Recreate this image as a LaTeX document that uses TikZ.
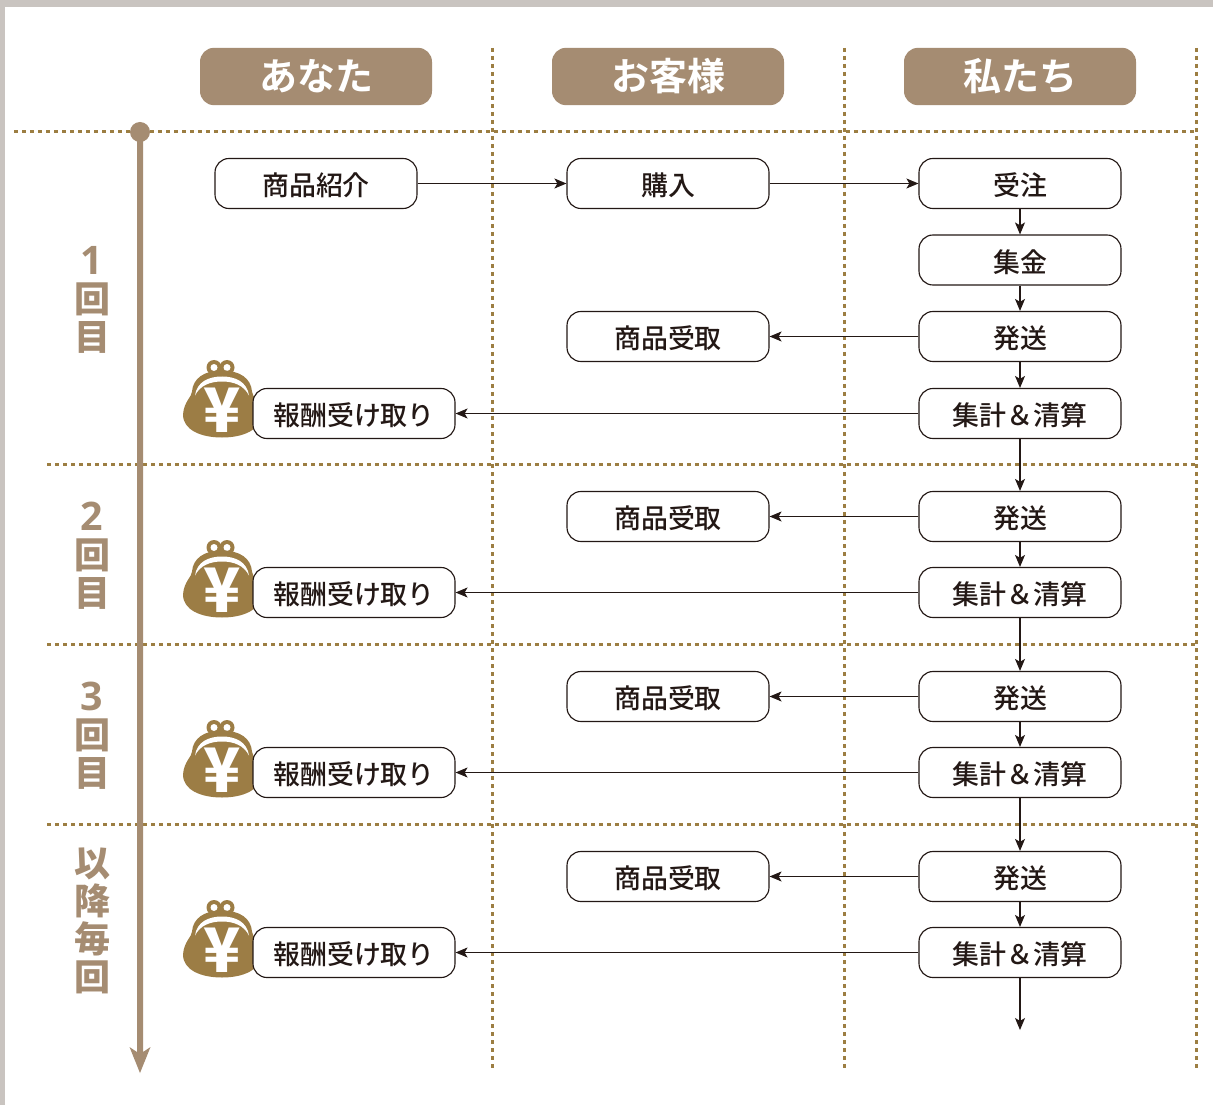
\documentclass[tikz,border=0pt]{standalone}
\usepackage{fontspec}
\usetikzlibrary{arrows.meta}
\newfontfamily\jpm{Noto Sans CJK JP Medium}
\newfontfamily\jpb{Noto Sans CJK JP Bold}
\newfontfamily\jpk{Noto Sans CJK JP Black}
\newfontfamily\digf[BoldFont={Open Sans Bold}]{Open Sans}
\newcommand{\digit}[1]{{\digf\bfseries\fontsize{29.5pt}{28.5pt}\selectfont #1}}
\definecolor{tan}{HTML}{A58C72}
\definecolor{dots}{HTML}{9C7E42}
\definecolor{purse}{HTML}{9C7D45}
\definecolor{frame}{HTML}{C9C4C0}
\definecolor{ink}{HTML}{231815}
\tikzset{
  flowbox/.style={draw=ink,fill=white,line width=0.85pt,rounded corners=10.5pt,minimum width=151.5pt,minimum height=37.5pt,inner sep=0pt,text=ink,text height=19pt,text depth=0.8pt,font=\jpm\fontsize{20.2pt}{22pt}\selectfont},
  headbox/.style={fill=tan,rounded corners=10.5pt,minimum width=174pt,minimum height=43pt,inner sep=0pt,text=white,font=\jpb\fontsize{28.5pt}{30pt}\selectfont},
  sidelabel/.style={text=tan,align=center,inner sep=0pt,font=\jpk\fontsize{27pt}{28.5pt}\selectfont},
  sep/.style={draw=dots,line width=2pt,dash pattern=on 3.2pt off 2.8pt},
  conn/.style={draw=ink,line width=0.8pt,-{Stealth[length=9pt,width=7.5pt,inset=2.2pt]}},
  pics/purse/.style={code={
    \fill[purse] (5,-38) circle (7.5);
    \fill[purse] (-8,-38) circle (7.5);
    \fill[white] (5,-38) circle (3.5);
    \fill[white] (-8,-38) circle (3.5);
    \fill[purse] (0,-35) .. controls (-18,-35) and (-29,-27) .. (-30,-14)
      .. controls (-30,-9) and (-38,-4) .. (-39,9)
      .. controls (-39,24) and (-22,32) .. (0,32)
      .. controls (22,32) and (39,24) .. (39,9)
      .. controls (38,-4) and (30,-9) .. (30,-14)
      .. controls (29,-27) and (18,-35) .. (0,-35) -- cycle;
    \fill[white] (-27,-10) .. controls (-25,-24) and (-13,-29) .. (0,-29)
      .. controls (13,-29) and (25,-24) .. (27,-10)
      .. controls (22,-20) and (12,-24) .. (0,-24)
      .. controls (-12,-24) and (-22,-20) .. (-27,-10) -- cycle;
    \node (-yen) at (0,5) [text=white,inner sep=0pt,font=\jpk\fontsize{46pt}{46pt}\selectfont] {¥};
  }}
}
\begin{document}
\begin{tikzpicture}[x=0.75pt,y=-0.75pt]
\useasboundingbox (0,0) rectangle (1213,1105);
\fill[white] (0,0) rectangle (1213,1105);
\fill[frame] (0,0) rectangle (1213,7);
\fill[frame] (0,0) rectangle (5,1105);
% separators
\coordinate (ht) at (14,131.5); \coordinate (hte) at (1196,131.5);
\coordinate (h1) at (47,464.5); \coordinate (h1e) at (1196,464.5);
\coordinate (h2) at (47,644.5); \coordinate (h2e) at (1196,644.5);
\coordinate (h3) at (47,824.5); \coordinate (h3e) at (1196,824.5);
\coordinate (v1) at (492.5,48); \coordinate (v1e) at (492.5,1068);
\coordinate (v2) at (844.5,48); \coordinate (v2e) at (844.5,1068);
\coordinate (v3) at (1196.5,48); \coordinate (v3e) at (1196.5,1068);
\foreach \a/\b in {ht/hte,h1/h1e,h2/h2e,h3/h3e,v1/v1e,v2/v2e,v3/v3e} \draw[sep] (\a) -- (\b);
% timeline
\fill[tan] (137,131) -- (143,131) -- (143,1052) -- (150.5,1047) -- (140,1073) -- (129.5,1047) -- (137,1052) -- cycle;
\fill[tan] (140,132) circle (10);
% headers
\node[headbox] (hA) at (316,76.5) {あなた};
\node[headbox] (hB) at (668,76.5) {お客様};
\node[headbox] (hC) at (1020,76.5) {私たち};
% side labels
\node[sidelabel] (s1) at (92,300) {\digit{1}\\回\\目};
\node[sidelabel] (s2) at (92,556) {\digit{2}\\回\\目};
\node[sidelabel] (s3) at (92,736) {\digit{3}\\回\\目};
\node[sidelabel] (s4) at (92,921) {以\\降\\毎\\回};
% purses
\pic (p1) at (222,405.5) {purse};
\pic (p2) at (222,585.5) {purse};
\pic (p3) at (222,765.5) {purse};
\pic (p4) at (222,945.5) {purse};
% row 0
\node[flowbox] (intro) at (316,183.5) {商品紹介};
\node[flowbox] (buy) at (668,183.5) {購入};
\node[flowbox] (order) at (1020,183.5) {受注};
\node[flowbox] (coll) at (1020,260) {集金};
% round 1
\node[flowbox] (ra) at (668,336.5) {商品受取};
\node[flowbox] (sa) at (1020,336.5) {発送};
\node[flowbox] (ca) at (1020,413.5) {集計＆清算};
\node[flowbox] (pa) at (354,413.5) {報酬受け取り};
% round 2
\node[flowbox] (rb) at (668,516.5) {商品受取};
\node[flowbox] (sb) at (1020,516.5) {発送};
\node[flowbox] (cb) at (1020,592.5) {集計＆清算};
\node[flowbox] (pb) at (354,592.5) {報酬受け取り};
% round 3
\node[flowbox] (rc) at (668,696.5) {商品受取};
\node[flowbox] (sc) at (1020,696.5) {発送};
\node[flowbox] (cc) at (1020,772.5) {集計＆清算};
\node[flowbox] (pc) at (354,772.5) {報酬受け取り};
% round 4
\node[flowbox] (rd) at (668,876.5) {商品受取};
\node[flowbox] (sd) at (1020,876.5) {発送};
\node[flowbox] (cd) at (1020,952.5) {集計＆清算};
\node[flowbox] (pd) at (354,952.5) {報酬受け取り};
\coordinate (end) at (1020,1030);
% connectors
\foreach \a/\b in {intro/buy,buy/order,order/coll,coll/sa,sa/ra,sa/ca,ca/pa,ca/sb,sb/rb,sb/cb,cb/pb,cb/sc,sc/rc,sc/cc,cc/pc,cc/sd,sd/rd,sd/cd,cd/pd,cd/end}
  \draw[conn] (\a) -- (\b);
\end{tikzpicture}
\end{document}
